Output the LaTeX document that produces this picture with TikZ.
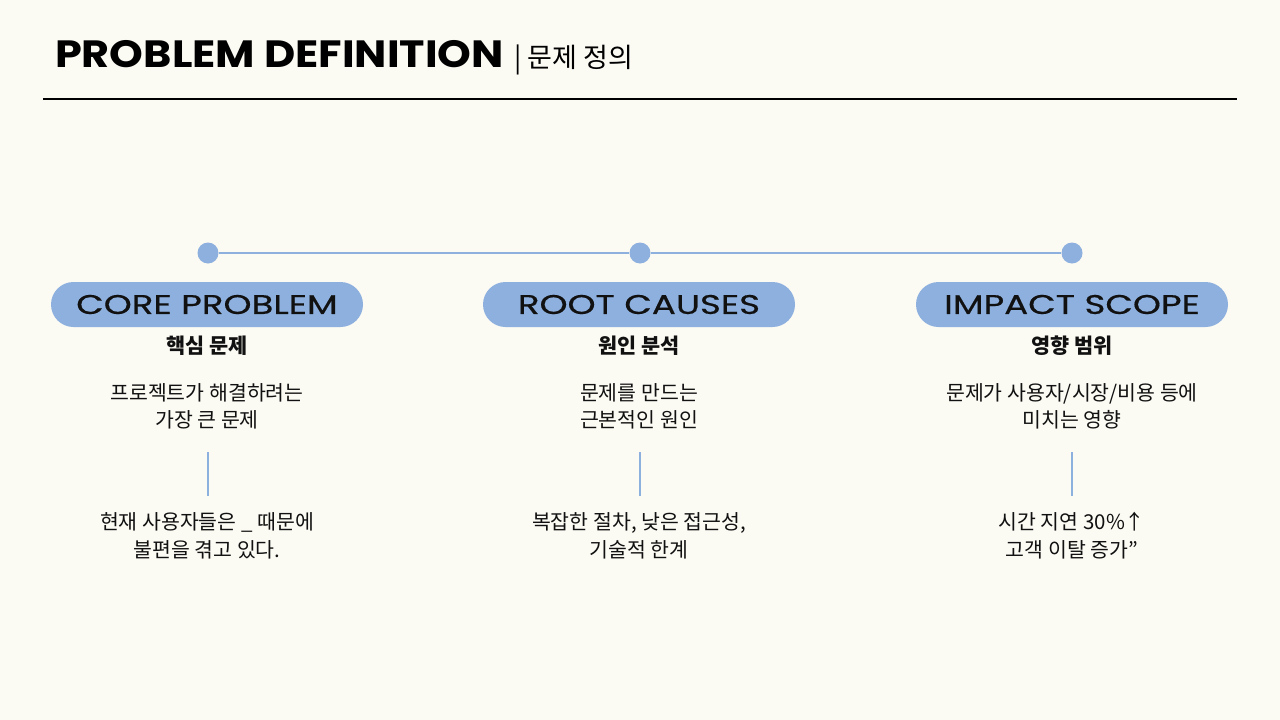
\documentclass[tikz,border=0pt]{standalone}
\usepackage{fontspec}
\setmainfont{Poppins}
\newfontfamily\kr{Noto Sans CJK KR}
\newfontfamily\titlefont{Poppins}[FakeStretch=1.13]
\newfontfamily\pillfont{Poppins}[FakeStretch=1.32, FakeBold=0.5]
\definecolor{bg}{HTML}{FBFAF3}
\definecolor{accent}{HTML}{8DB0DE}
\definecolor{ink}{HTML}{111111}
\tikzset{
  pill/.style={fill=accent, rounded corners=22.5pt, minimum width=312pt, minimum height=45pt, inner sep=0pt, text=ink, font=\pillfont\fontsize{27}{27}\selectfont},
  dot/.style={circle, fill=accent, minimum size=21pt, inner sep=0pt},
  sub/.style={font=\kr\bfseries\fontsize{20.8}{21}\selectfont, text=ink},
  desc/.style={font=\kr\fontsize{20.5}{27}\selectfont, text=ink, align=center},
  link/.style={draw=accent, line width=2pt},
}
\begin{document}
\begin{tikzpicture}[x=1pt,y=-1pt]
\useasboundingbox (0,0) rectangle (1280,720);
\fill[bg] (0,0) rectangle (1280,720);
% title
\node[anchor=base west, inner sep=0pt, font=\titlefont\fontsize{38}{38}\selectfont\bfseries, text=black] (title) at (55,67) {PROBLEM DEFINITION};
\node[anchor=base west, inner sep=0pt, font=\kr\fontsize{27}{27}\selectfont, text=black] (titlekr) at ([xshift=10pt]title.base east) {| 문제 정의};
\coordinate (rl) at (43,99);
\coordinate (rr) at (1237,99);
\draw[line width=1.8pt, black] (rl) -- (rr);
% timeline
\node[dot] (d1) at (208,253) {};
\node[dot] (d2) at (640,253) {};
\node[dot] (d3) at (1072,253) {};
\draw[link] (d1) -- (d2);
\draw[link] (d2) -- (d3);
% column 1
\node[pill] (p1) at (207,304.5) {CORE PROBLEM};
\node[sub, anchor=base] (s1) at (207,353) {핵심 문제};
\node[desc, anchor=base] (da1) at (207,400) {프로젝트가 해결하려는};
\node[desc, anchor=base] (db1) at (207,427) {가장 큰 문제};
\coordinate (vt1) at (208,452);
\coordinate (vb1) at (208,496);
\draw[link] (vt1) -- (vb1);
\node[desc, anchor=base] (ea1) at (207,529) {현재 사용자들은 \_ 때문에};
\node[desc, anchor=base] (eb1) at (207,557) {불편을 겪고 있다.};
% column 2
\node[pill] (p2) at (639,304.5) {ROOT CAUSES};
\node[sub, anchor=base] (s2) at (639,353) {원인 분석};
\node[desc, anchor=base] (da2) at (639,400) {문제를 만드는};
\node[desc, anchor=base] (db2) at (639,427) {근본적인 원인};
\coordinate (vt2) at (640,452);
\coordinate (vb2) at (640,496);
\draw[link] (vt2) -- (vb2);
\node[desc, anchor=base] (ea2) at (639,529) {복잡한 절차, 낮은 접근성,};
\node[desc, anchor=base] (eb2) at (639,557) {기술적 한계};
% column 3
\node[pill] (p3) at (1072,304.5) {IMPACT SCOPE};
\node[sub, anchor=base] (s3) at (1072,353) {영향 범위};
\node[desc, anchor=base] (da3) at (1072,400) {문제가 사용자/시장/비용 등에};
\node[desc, anchor=base] (db3) at (1072,427) {미치는 영향};
\coordinate (vt3) at (1072,452);
\coordinate (vb3) at (1072,496);
\draw[link] (vt3) -- (vb3);
\node[desc, anchor=base] (ea3) at (1072,529) {시간 지연 30\%↑};
\node[desc, anchor=base] (eb3) at (1072,557) {고객 이탈 증가”};
\end{tikzpicture}
\end{document}
